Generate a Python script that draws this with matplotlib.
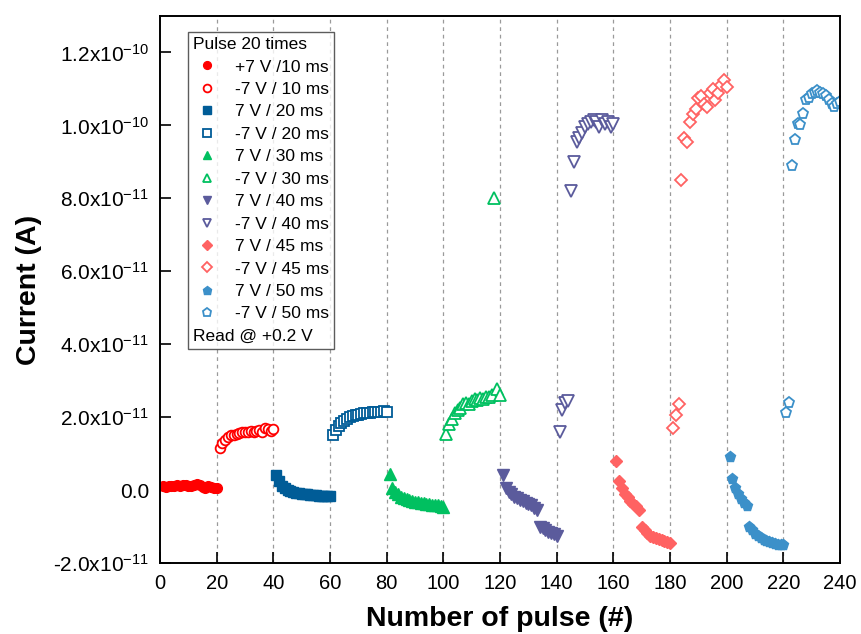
import numpy as np
import matplotlib
matplotlib.use("Agg")
import matplotlib.pyplot as plt

plt.rcParams['font.family'] = ['Liberation Sans', 'DejaVu Sans']
plt.rcParams['mathtext.default'] = 'regular'

# pulse number blocks: 20 pulses each
pulses = np.arange(1, 21)

# current values in units of 1e-11 A
p10 = [0.10, 0.08, 0.12, 0.10, 0.11, 0.13, 0.12, 0.15, 0.14, 0.12, 0.10, 0.14, 0.16, 0.13, 0.08, 0.06, 0.10, 0.08, 0.05, 0.05]
n10 = [1.15, 1.30, 1.38, 1.45, 1.50, 1.52, 1.55, 1.57, 1.58, 1.60, 1.60, 1.62, 1.58, 1.63, 1.65, 1.60, 1.70, 1.67, 1.62, 1.68]
p20 = [0.40, 0.25, 0.12, 0.05, 0.00, -0.03, -0.05, -0.07, -0.08, -0.10, -0.11, -0.12, -0.13, -0.13, -0.14, -0.15, -0.15, -0.16, -0.16, -0.17]
n20 = [1.50, 1.65, 1.75, 1.85, 1.90, 1.95, 2.00, 2.02, 2.05, 2.07, 2.08, 2.10, 2.10, 2.12, 2.13, 2.14, 2.15, 2.15, 2.16, 2.15]
p30 = [0.45, 0.05, -0.05, -0.12, -0.18, -0.22, -0.25, -0.28, -0.30, -0.32, -0.34, -0.35, -0.36, -0.38, -0.39, -0.40, -0.41, -0.42, -0.44, -0.46]
n30 = [1.55, 1.80, 1.95, 2.10, 2.20, 2.25, 2.35, 2.40, 2.35, 2.45, 2.50, 2.48, 2.52, 2.50, 2.55, 2.55, 2.60, 8.00, 2.78, 2.62]
p40 = [0.40, 0.05, -0.05, -0.12, -0.18, -0.22, -0.27, -0.30, -0.35, -0.38, -0.42, -0.48, -0.55, -1.00, -1.05, -1.10, -1.15, -1.18, -1.20, -1.25]
n40 = [1.60, 2.20, 2.40, 2.45, 8.20, 9.00, 9.55, 9.65, 9.80, 9.95, 10.05, 10.10, 10.15, 10.10, 9.95, 10.15, 10.05, 10.10, 9.95, 10.05]
p45 = [0.80, 0.25, 0.05, -0.10, -0.20, -0.30, -0.38, -0.45, -0.55, -1.00, -1.10, -1.18, -1.25, -1.30, -1.32, -1.35, -1.37, -1.40, -1.42, -1.45]
n45 = [1.70, 2.05, 2.37, 8.50, 9.65, 9.55, 10.10, 10.30, 10.45, 10.75, 10.80, 10.60, 10.50, 10.90, 11.00, 10.70, 10.90, 11.10, 11.25, 11.05]
p50 = [0.90, 0.30, 0.05, -0.10, -0.25, -0.35, -0.45, -1.00, -1.10, -1.20, -1.27, -1.32, -1.36, -1.40, -1.43, -1.45, -1.47, -1.50, -1.50, -1.52]
n50 = [2.10, 2.40, 8.90, 9.60, 10.05, 10.00, 10.30, 10.70, 10.75, 10.85, 10.90, 10.95, 10.90, 10.85, 10.80, 10.70, 10.60, 10.50, 10.60, 10.65]

series = [p10, n10, p20, n20, p30, n30, p40, n40, p45, n45, p50, n50]
labels = ['+7 V /10 ms', '-7 V / 10 ms', '7 V / 20 ms', '-7 V / 20 ms',
          '7 V / 30 ms', '-7 V / 30 ms', '7 V / 40 ms', '-7 V / 40 ms',
          '7 V / 45 ms', '-7 V / 45 ms', '7 V / 50 ms', '-7 V / 50 ms']
colors = ['#ff0000', '#ff0000', '#005c97', '#005c97', '#00c060', '#00c060',
          '#5b5b9c', '#5b5b9c', '#ff6262', '#ff6262', '#3c90c9', '#3c90c9']
markers = ['o', 'o', 's', 's', '^', '^', 'v', 'v', 'D', 'D', 'p', 'p']
sizes = [7, 7, 6.5, 6.5, 8, 8, 8, 8, 6.5, 6.5, 8, 8]

yticks = [-2e-11, 0, 2e-11, 4e-11, 6e-11, 8e-11, 1e-10, 1.2e-10]
ytick_labels = ['-2.0x10$^{-11}$', '0.0', '2.0x10$^{-11}$', '4.0x10$^{-11}$',
                '6.0x10$^{-11}$', '8.0x10$^{-11}$', '1.0x10$^{-10}$', '1.2x10$^{-10}$']
xticks = list(range(0, 241, 20))

fig = plt.figure(figsize=(8.61, 6.34), dpi=100)
ax = fig.add_axes([160 / 861, 1 - 563 / 634, 680 / 861, 547 / 634])

for xv in xticks[1:-1]:
    ax.axvline(xv, color='#9a9a9a', lw=0.9, ls=(0, (3, 3)), zorder=0)

handles = []
for i, (vals, lab, c, m, s) in enumerate(zip(series, labels, colors, markers, sizes)):
    x = pulses + 20 * i
    y = np.array(vals) * 1e-11
    if i % 2 == 0:
        h, = ax.plot(x, y, ls='none', marker=m, ms=s, color=c, mec=c, label=lab)
    else:
        h, = ax.plot(x, y, ls='none', marker=m, ms=s, mfc='white', mec=c,
                     mew=1.3, label=lab)
    handles.append(h)

ax.set_xlim(0, 240)
ax.set_ylim(-2e-11, 1.3e-10)
ax.set_xticks(xticks)
ax.set_xticklabels([str(v) for v in xticks], fontsize=14.5)
ax.set_yticks(yticks)
ax.set_yticklabels(ytick_labels, fontsize=15)
ax.tick_params(direction='in', length=8, width=1.2, top=False, right=False, pad=8)
for sp in ax.spines.values():
    sp.set_linewidth(1.4)

ax.set_xlabel('Number of pulse (#)', fontsize=20.5, fontweight='bold', labelpad=9)
ax.set_ylabel('Current (A)', fontsize=20.5, fontweight='bold', labelpad=8)

blank, = ax.plot([], [], ls='none', label='Read @ +0.2 V')
leg = ax.legend(handles + [blank], labels + ['Read @ +0.2 V'],
                title='Pulse 20 times', alignment='left', loc='upper left',
                bbox_to_anchor=(0.041, 0.971), borderaxespad=0, fontsize=12.5,
                title_fontsize=12.5, frameon=True, fancybox=False, edgecolor='#333333',
                markerscale=0.8, handlelength=1.6, handletextpad=0.8,
                labelspacing=0.42, borderpad=0.3)
leg.get_frame().set_linewidth(1.0)

# drop the empty handle of the last row so the text sits at the left edge
col = leg._legend_handle_box.get_children()[0]
last_row = col.get_children()[-1]
last_row.get_children().pop(0)

fig.savefig('out.png', dpi=100)
